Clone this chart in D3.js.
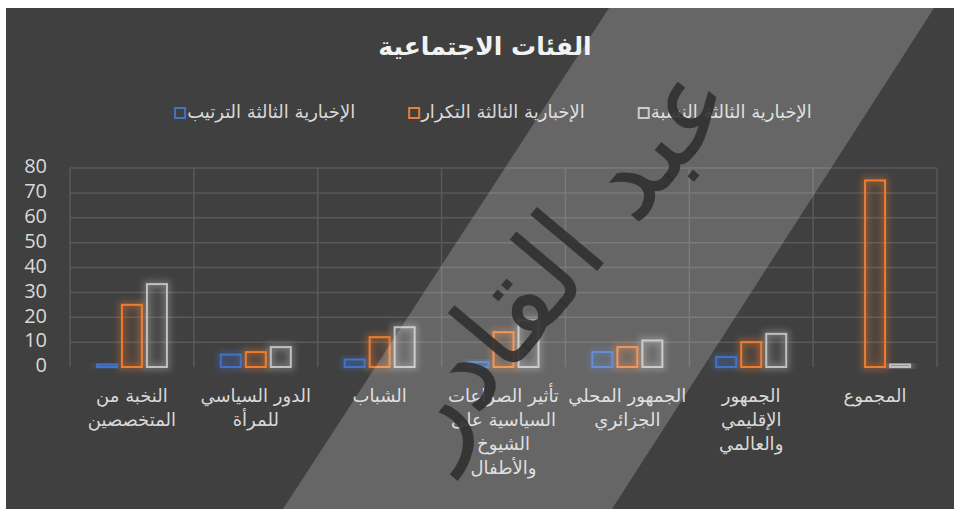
<!DOCTYPE html>
<html lang="ar">
<head>
  <meta charset="UTF-8">
  <title>الفئات الاجتماعية</title>
  <script src="https://d3js.org/d3.v7.min.js"></script>
  <style>
    body { margin: 0; padding: 0; background: #fff; }
    svg { display: block; }
    .ar { font-family: "DejaVu Sans", sans-serif; }
    .num { font-family: "Open Sans", sans-serif; }
  </style>
</head>
<body>
  <div id="chart"></div>
  <script>
    // data
    const categories = [
      'النخبة من المتخصصين',
      'الدور السياسي للمرأة',
      'الشباب',
      'تأثير الصراعات السياسية على الشيوخ والأطفال',
      'الجمهور المحلي الجزائري',
      'الجمهور الإقليمي والعالمي',
      'المجموع'
    ];
    // wrapped label lines, as they show under the axis
    const categoryLines = [
      ['النخبة من', 'المتخصصين'],
      ['الدور السياسي', 'للمرأة'],
      ['الشباب'],
      ['تأثير الصراعات', 'السياسية على', 'الشيوخ', 'والأطفال'],
      ['الجمهور المحلي', 'الجزائري'],
      ['الجمهور', 'الإقليمي', 'والعالمي'],
      ['المجموع']
    ];
    const seriesNames = ['الإخبارية الثالثة الترتيب', 'الإخبارية الثالثة التكرار', 'الإخبارية الثالثة النسبة'];
    const seriesColors = ['#4472c4', '#ed7d31', '#c0c0c0'];
    const rankValues = [1, 5, 3, 2, 6, 4, null];
    const freqValues = [25, 6, 12, 14, 8, 10, 75];
    const pctValues = [33.33, 8, 16, 18.67, 10.67, 13.33, 1];
    const yTicks = [0, 10, 20, 30, 40, 50, 60, 70, 80];
    const titleText = 'الفئات الاجتماعية';

    const allSeries = [rankValues, freqValues, pctValues];

    const width = 954, height = 509;
    const plot = { left: 70, right: 937, top: 168, bottom: 367 };

    const svg = d3.select('#chart').append('svg')
      .attr('width', width)
      .attr('height', height);

    const defs = svg.append('defs');
    defs.append('filter').attr('id', 'glow')
      .attr('x', '-50%').attr('y', '-50%').attr('width', '200%').attr('height', '200%')
      .append('feGaussianBlur').attr('stdDeviation', 3);

    // chart background
    svg.append('rect')
      .attr('x', 6).attr('y', 8)
      .attr('width', width - 6).attr('height', height - 8)
      .attr('fill', '#404040');

    // title
    svg.append('text').attr('class', 'ar')
      .attr('x', 485).attr('y', 48)
      .attr('text-anchor', 'middle')
      .attr('dominant-baseline', 'middle')
      .attr('font-size', 25)
      .attr('font-weight', 'bold')
      .attr('fill', '#f2f2f2')
      .text(titleText);

    // scales
    const x0 = d3.scaleBand().domain(d3.range(categories.length))
      .range([plot.left, plot.right]).padding(0);
    const x1 = d3.scaleBand().domain(d3.range(seriesNames.length))
      .range([0, 70]).paddingInner(0.2);
    const y = d3.scaleLinear().domain([0, 80]).range([plot.bottom, plot.top]);

    // gridlines
    const grid = svg.append('g').attr('stroke', '#595959').attr('stroke-width', 1.5);
    grid.selectAll('line.h').data(yTicks.filter(t => t > 0)).join('line')
      .attr('class', 'h')
      .attr('x1', plot.left).attr('x2', plot.right)
      .attr('y1', d => y(d)).attr('y2', d => y(d));
    grid.selectAll('line.v').data(d3.range(categories.length + 1)).join('line')
      .attr('class', 'v')
      .attr('x1', d => plot.left + d * x0.step()).attr('x2', d => plot.left + d * x0.step())
      .attr('y1', y(80)).attr('y2', y(0));

    // y axis labels
    svg.append('g').selectAll('text').data(yTicks).join('text')
      .attr('class', 'num')
      .attr('x', 47).attr('y', d => y(d))
      .attr('text-anchor', 'end')
      .attr('dominant-baseline', 'middle')
      .attr('font-size', 20)
      .attr('fill', '#d9d9d9')
      .text(d => d);

    // bars
    const bars = [];
    allSeries.forEach((vals, s) => {
      vals.forEach((v, i) => {
        if (v == null) return;
        bars.push({ s, i, v });
      });
    });
    const barG = svg.append('g');
    const bx = d => x0(d.i) + x0.bandwidth() / 2 - 35 + x1(d.s);
    // glow
    barG.selectAll('rect.glow').data(bars).join('rect')
      .attr('class', 'glow')
      .attr('x', bx).attr('y', d => y(d.v))
      .attr('width', x1.bandwidth()).attr('height', d => y(0) - y(d.v))
      .attr('fill', 'none')
      .attr('stroke', d => seriesColors[d.s])
      .attr('stroke-width', 7)
      .attr('opacity', 0.35)
      .attr('filter', 'url(#glow)');
    barG.selectAll('rect.bar').data(bars).join('rect')
      .attr('class', 'bar')
      .attr('x', bx).attr('y', d => y(d.v))
      .attr('width', x1.bandwidth()).attr('height', d => y(0) - y(d.v))
      .attr('fill', d => seriesColors[d.s])
      .attr('fill-opacity', 0.08)
      .attr('stroke', d => seriesColors[d.s])
      .attr('stroke-width', 2);

    // category labels
    const lab = svg.append('g').attr('class', 'ar')
      .attr('font-size', 18).attr('fill', '#d9d9d9');
    categoryLines.forEach((lines, i) => {
      lab.selectAll(null).data(lines).join('text')
        .attr('x', x0(i) + x0.bandwidth() / 2)
        .attr('y', (d, k) => 397 + k * 24)
        .attr('text-anchor', 'middle')
        .attr('dominant-baseline', 'middle')
        .text(d => d);
    });

    // legend: box to the left of each name, blue / orange / gray from left
    const leg = svg.append('g').attr('class', 'ar').attr('font-size', 18);
    const items = leg.selectAll('g').data(seriesNames).join('g');
    items.append('text')
      .attr('x', 13).attr('y', 113)
      .attr('dominant-baseline', 'middle')
      .attr('fill', '#d9d9d9')
      .text(d => d);
    items.append('rect')
      .attr('x', 1).attr('y', 108)
      .attr('width', 10).attr('height', 10)
      .attr('fill', 'none')
      .attr('stroke', (d, i) => seriesColors[i])
      .attr('stroke-width', 2);
    const widths = items.nodes().map(n => 13 + n.querySelector('text').getComputedTextLength());
    const gap = 53;
    const total = d3.sum(widths) + gap * (widths.length - 1);
    let cx = 493 - total / 2;
    items.each(function(d, i) {
      d3.select(this).attr('transform', `translate(${cx},0)`);
      cx += widths[i] + gap;
    });

    // diagonal light band and handwritten watermark over the chart
    svg.append('polygon')
      .attr('points', [[609, 8], [934, 8], [612, 509], [283, 509]].join(' '))
      .attr('fill', '#ffffff')
      .attr('fill-opacity', 0.2);
    svg.append('text').attr('class', 'ar')
      .attr('transform', 'translate(565,260) rotate(-50)')
      .attr('text-anchor', 'middle')
      .attr('dominant-baseline', 'middle')
      .attr('font-size', 115)
      .attr('fill', '#303030')
      .attr('fill-opacity', 0.9)
      .text('عبد القادر');
  </script>
</body>
</html>
